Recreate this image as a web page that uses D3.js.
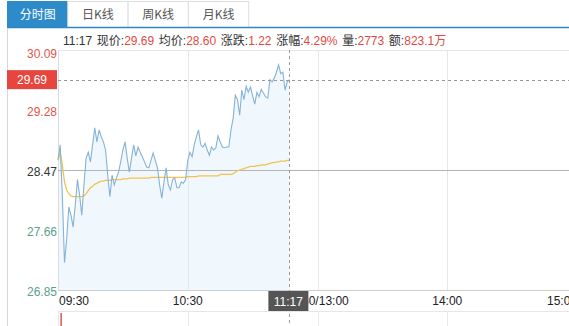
<!DOCTYPE html>
<html>
<head>
<meta charset="utf-8">
<script src="https://cdn.jsdelivr.net/npm/d3@7/dist/d3.min.js"></script>
<style>
  body { margin: 0; background: #fff; }
  svg { display: block; font-family: "Liberation Sans", "Noto Sans CJK SC", sans-serif; }
</style>
</head>
<body>
<div id="chart"></div>
<script>
// minute prices from 09:30 to 11:17
var prices = [
    28.61, 28.81, 28.13, 27.22, 27.53, 27.97, 27.86, 27.70, 28.00, 28.34,
    28.13, 27.86, 28.27, 28.63, 28.71, 28.58, 28.81, 29.04, 28.85, 29.01,
    28.92, 28.85, 28.74, 28.40, 28.11, 28.40, 28.27, 28.36, 28.44, 28.58,
    28.74, 28.85, 28.63, 28.44, 28.63, 28.81, 28.66, 28.78, 28.71, 28.65,
    28.58, 28.51, 28.50, 28.60, 28.70, 28.60, 28.50, 28.27, 28.09, 28.31,
    28.50, 28.27, 28.20, 28.34, 28.36, 28.23, 28.23, 28.31, 28.29, 28.34,
    28.60, 28.71, 28.65, 28.81, 28.92, 29.01, 28.81, 28.78, 28.83, 28.74,
    28.67, 28.78, 28.74, 28.77, 28.93, 28.85, 28.78, 28.77, 28.78, 28.78,
    29.01, 29.17, 29.48, 29.42, 29.21, 29.55, 29.42, 29.60, 29.52, 29.59,
    29.47, 29.36, 29.52, 29.46, 29.56, 29.51, 29.46, 29.44, 29.69, 29.66,
    29.71, 29.79, 29.89, 29.77, 29.79, 29.55, 29.66, 29.69
];
var avgPrices = [
    28.60, 28.71, 28.54, 28.31, 28.20, 28.15, 28.12, 28.11, 28.11, 28.11,
    28.11, 28.11, 28.12, 28.15, 28.19, 28.23, 28.25, 28.28, 28.29, 28.31,
    28.32, 28.32, 28.33, 28.33, 28.33, 28.34, 28.34, 28.34, 28.34, 28.34,
    28.35, 28.35, 28.35, 28.36, 28.36, 28.36, 28.36, 28.36, 28.36, 28.36,
    28.36, 28.36, 28.36, 28.37, 28.37, 28.37, 28.37, 28.37, 28.37, 28.37,
    28.37, 28.37, 28.37, 28.37, 28.37, 28.37, 28.37, 28.37, 28.37, 28.37,
    28.38, 28.38, 28.38, 28.38, 28.38, 28.39, 28.39, 28.39, 28.39, 28.39,
    28.39, 28.39, 28.39, 28.39, 28.39, 28.41, 28.41, 28.41, 28.41, 28.41,
    28.41, 28.42, 28.44, 28.46, 28.47, 28.48, 28.49, 28.50, 28.51, 28.52,
    28.52, 28.52, 28.53, 28.53, 28.54, 28.54, 28.54, 28.55, 28.56, 28.57,
    28.57, 28.58, 28.58, 28.59, 28.59, 28.59, 28.60, 28.60
];
var priceTicks = [30.09, 29.28, 28.47, 27.66, 26.85];
var prevClose = 28.47;
var lastPrice = 29.69;
var timeTicks = [0, 60, 120, 180, 240];
var timeLabels = ["09:30", "10:30", "11:30/13:00", "14:00", "15:00"];
var tabs = ["分时图", "日K线", "周K线", "月K线"];
var curMinute = 107;
var curTime = "11:17";
var infoItems = [
    ["现价:", "29.69"], ["均价:", "28.60"], ["涨跌:", "1.22"],
    ["涨幅:", "4.29%"], ["量:", "2773"], ["额:", "823.1万"]
];
// only the first volume bar is visible in the panel
var volMinutes = [0];
var volumes = [300];

var width = 569;
var height = 326;
var plotL = 58, plotR = 577, plotT = 50, plotB = 290;
var volT = 313, volB = 380;

var svg = d3.select("#chart").append("svg")
    .attr("width", width)
    .attr("height", height);

var x = d3.scaleLinear().domain([0, 240]).range([plotL, plotR]);
var y = d3.scaleLinear().domain([26.85, 30.09]).range([plotB, plotT]);
var yv = d3.scaleLinear().domain([0, d3.max(volumes)]).range([volB, volT]);

// tabs
var tabW = 60.3;
var tab = svg.selectAll(".tab").data(tabs).enter().append("g")
    .attr("class", "tab")
    .attr("transform", function (d, i) { return "translate(" + (7.5 + i * tabW) + ",1.5)"; });
tab.append("rect")
    .attr("width", tabW).attr("height", 26)
    .style("fill", function (d, i) { return i == 0 ? "#2d8bc9" : "#fff"; })
    .style("stroke", function (d, i) { return i == 0 ? "#2d8bc9" : "#dedede"; });
tab.append("text")
    .attr("x", tabW / 2).attr("y", 17.5)
    .attr("text-anchor", "middle")
    .style("font-size", "12px")
    .style("font-family", "'Noto Sans CJK SC', sans-serif")
    .style("fill", function (d, i) { return i == 0 ? "#fff" : "#555"; })
    .text(function (d) { return d; });

svg.append("line").attr("x1", 7).attr("x2", width).attr("y1", 27.5).attr("y2", 27.5)
    .style("stroke", "#2d86c4").style("stroke-width", 1.6);
svg.append("line").attr("x1", 7.5).attr("x2", 7.5).attr("y1", 28).attr("y2", height)
    .style("stroke", "#d6d6d6");

// info line
var info = svg.append("text").attr("x", 63).attr("y", 45)
    .style("font-size", "12px").style("fill", "#333")
    .style("word-spacing", "1.3px");
info.append("tspan").text(curTime + " ");
infoItems.forEach(function (d, i) {
    info.append("tspan").text(d[0]);
    info.append("tspan").style("fill", "#df4b43").text(d[1] + (i < infoItems.length - 1 ? " " : ""));
});

// area fill under price
var area = d3.area()
    .x(function (d, i) { return x(i); })
    .y0(plotB)
    .y1(function (d) { return y(d); });
svg.append("path").datum(prices)
    .attr("d", area)
    .style("fill", "#f0f7fd");

// grid
svg.append("line").attr("x1", plotL).attr("x2", width).attr("y1", plotT + 0.5).attr("y2", plotT + 0.5)
    .style("stroke", "#e6e6e6");
svg.selectAll(".vgrid").data(timeTicks.slice(0, 4)).enter().append("line")
    .attr("x1", function (d) { return Math.round(x(d)) + 0.5; })
    .attr("x2", function (d) { return Math.round(x(d)) + 0.5; })
    .attr("y1", plotT).attr("y2", plotB)
    .style("stroke", function (d) { return d == 0 ? "#dcdcdc" : "#e3e8ee"; });
svg.selectAll(".vgrid2").data(timeTicks.slice(0, 4)).enter().append("line")
    .attr("x1", function (d) { return Math.round(x(d)) + 0.5; })
    .attr("x2", function (d) { return Math.round(x(d)) + 0.5; })
    .attr("y1", 311).attr("y2", height)
    .style("stroke", "#e8e8e8");
svg.append("line").attr("x1", plotL).attr("x2", width).attr("y1", plotB + 0.5).attr("y2", plotB + 0.5)
    .style("stroke", "#cfcfcf");
svg.append("line").attr("x1", plotL).attr("x2", width).attr("y1", 311.5).attr("y2", 311.5)
    .style("stroke", "#e6e6e6");
svg.append("line").attr("x1", plotL).attr("x2", width)
    .attr("y1", Math.round(y(prevClose)) + 0.5).attr("y2", Math.round(y(prevClose)) + 0.5)
    .style("stroke", "#b4b4b4");

// average and price lines
var line = d3.line()
    .x(function (d, i) { return x(i); })
    .y(function (d) { return y(d); });
svg.append("path").datum(avgPrices)
    .attr("d", line)
    .style("fill", "none").style("stroke", "#f2c24e").style("stroke-width", 1.3);
svg.append("path").datum(prices)
    .attr("d", line)
    .style("fill", "none").style("stroke", "#85b3d8").style("stroke-width", 1.1);

// dashed cross lines
svg.append("line").attr("x1", plotL).attr("x2", width)
    .attr("y1", Math.round(y(lastPrice)) + 0.5).attr("y2", Math.round(y(lastPrice)) + 0.5)
    .style("stroke", "#999").style("stroke-dasharray", "3,3");
svg.append("line")
    .attr("x1", Math.round(x(curMinute)) + 0.5).attr("x2", Math.round(x(curMinute)) + 0.5)
    .attr("y1", plotT).attr("y2", height)
    .style("stroke", "#999").style("stroke-dasharray", "3,3");

// volume
svg.selectAll(".vol").data(volumes).enter().append("rect")
    .attr("x", function (d, i) { return x(volMinutes[i]) + 2.5; })
    .attr("width", 1.2)
    .attr("y", function (d) { return yv(d); })
    .attr("height", function (d) { return volB - yv(d); })
    .style("fill", "#c9302c");

// price axis labels
var tickColor = function (d) {
    if (d > prevClose) return "#e0564c";
    if (d < prevClose) return "#5c9f8c";
    return "#333";
};
svg.selectAll(".ylab").data(priceTicks).enter().append("text")
    .attr("x", 57)
    .attr("y", function (d) { return Math.max(y(d), 52) + 5.6; })
    .attr("text-anchor", "end")
    .style("font-size", "12px")
    .style("fill", tickColor)
    .text(function (d) { return d.toFixed(2); });

// last price tag
svg.append("rect").attr("x", 7).attr("y", y(lastPrice) - 9.5).attr("width", 50).attr("height", 19)
    .style("fill", "#e6463d");
svg.append("text").attr("x", 32).attr("y", y(lastPrice) + 4.5)
    .attr("text-anchor", "middle")
    .style("font-size", "12px").style("fill", "#fff")
    .text(lastPrice.toFixed(2));

// time axis labels
svg.selectAll(".xlab").data(timeTicks).enter().append("text")
    .attr("x", function (d, i) { return i == 0 ? x(d) + 1 : x(d); })
    .attr("y", 304.5)
    .attr("text-anchor", function (d, i) { return i == 0 ? "start" : (i == 4 ? "end" : "middle"); })
    .style("font-size", "12px")
    .style("fill", "#222")
    .text(function (d, i) { return timeLabels[i]; });

// current time tag
svg.append("rect").attr("x", x(curMinute) - 21).attr("y", 291).attr("width", 40).attr("height", 20)
    .style("fill", "#555");
svg.append("text").attr("x", x(curMinute) - 1).attr("y", 306)
    .attr("text-anchor", "middle")
    .style("font-size", "12px").style("fill", "#fff")
    .text(curTime);
</script>
</body>
</html>
